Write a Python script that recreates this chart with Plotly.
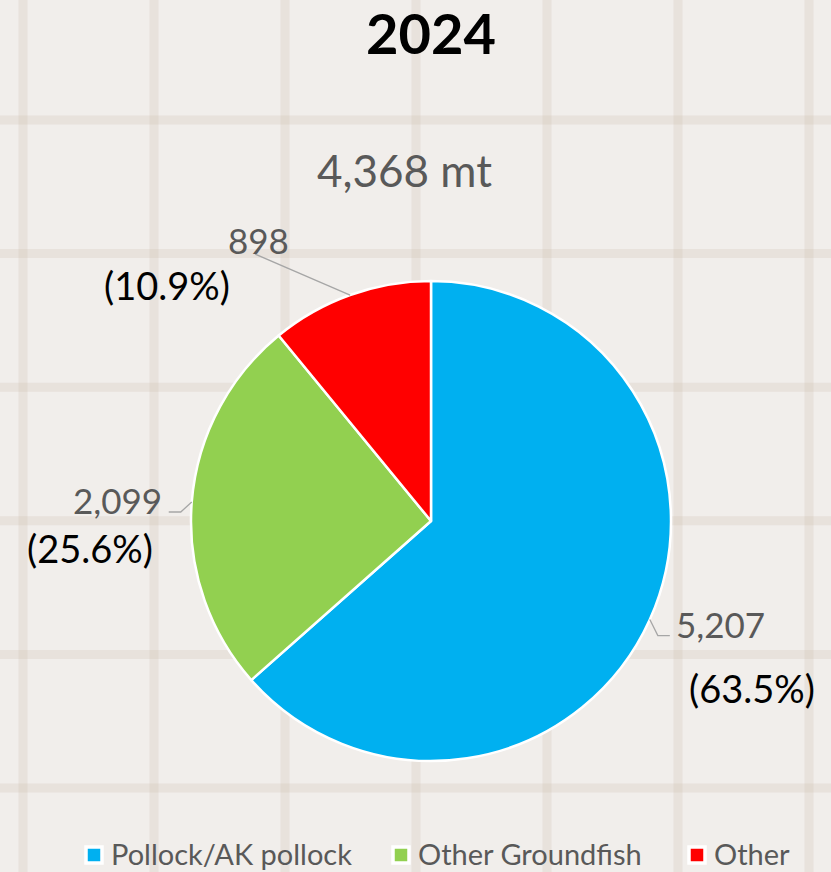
import math
import plotly.graph_objects as go

# Catch composition, 2024
categories = ["Pollock/AK pollock", "Other Groundfish", "Other"]
values = [5207, 2099, 898]
colors = ["#00B0F0", "#92D050", "#FF0000"]
title_text = "2024"
subtitle_text = "4,368 mt"

W, H = 831, 872
CX, CY, R = 431, 521, 240          # pie centre and radius in pixels

# Label placement per slice: elbow/end offsets of leader lines and text centres
leader_offsets = [
    [(8, 16), (20, 16)],            # Pollock: down-right, then right
    [(-11, 10), (-23, 10)],         # Other Groundfish: down-left, then left
    [(-95, -41)],                   # Other: straight up-left
]
value_pos = [(720, 624), (117, 500), (258, 240)]
pct_pos = [(752, 688), (90, 548), (167, 285)]

# Legend row: key-square centres along the bottom
legend_y = 855
legend_key_x = [94, 401, 697]


def px(x):
    return x / W


def py(y):
    return 1 - y / H


fig = go.Figure()

fig.add_trace(go.Pie(
    labels=categories,
    values=values,
    marker=dict(colors=colors, line=dict(color="white", width=2.5)),
    sort=False,
    direction="clockwise",
    rotation=0,
    textinfo="none",
    hoverinfo="label+value+percent",
    domain=dict(x=[px(CX - R), px(CX + R)], y=[py(CY + R), py(CY - R)]),
    showlegend=False,
))

shapes = []
# Tiled background grid
grid_color = "rgba(200,185,170,0.22)"
for k in range(7):
    x = 23 + 131 * k
    shapes.append(dict(type="line", xref="paper", yref="paper",
                       x0=px(x), x1=px(x), y0=0, y1=1, layer="below",
                       line=dict(color=grid_color, width=9)))
for k in range(6):
    y = 120 + 133.6 * k
    shapes.append(dict(type="line", xref="paper", yref="paper",
                       x0=0, x1=1, y0=py(y), y1=py(y), layer="below",
                       line=dict(color=grid_color, width=9)))

annotations = []
total = sum(values)
cum = 0
for i, v in enumerate(values):
    frac_mid = (cum + v / 2) / total
    cum += v
    ang = 2 * math.pi * frac_mid
    ex = CX + R * math.sin(ang)
    ey = CY - R * math.cos(ang)
    pts = [(ex, ey)] + [(ex + dx, ey + dy) for dx, dy in leader_offsets[i]]
    path = "M " + " L ".join(f"{px(a):.5f},{py(b):.5f}" for a, b in pts)
    shapes.append(dict(type="path", xref="paper", yref="paper", path=path,
                       line=dict(color="#A6A6A6", width=1.3)))
    vx, vy = value_pos[i]
    annotations.append(dict(x=px(vx), y=py(vy), xref="paper", yref="paper",
                            text=f"{v:,}", showarrow=False,
                            xanchor="center", yanchor="middle",
                            font=dict(family="Lato", size=35, color="#595959")))
    qx, qy = pct_pos[i]
    annotations.append(dict(x=px(qx), y=py(qy), xref="paper", yref="paper",
                            text=f"({v / total * 100:.1f}%)", showarrow=False,
                            xanchor="center", yanchor="middle",
                            font=dict(family="Lato", size=38, color="#000000")))

# Legend: white-edged colour keys followed by category names
for name, col, kx in zip(categories, colors, legend_key_x):
    shapes.append(dict(type="rect", xref="paper", yref="paper",
                       x0=px(kx - 8), x1=px(kx + 8),
                       y0=py(legend_y + 8), y1=py(legend_y - 8),
                       fillcolor=col, line=dict(color="white", width=3.5)))
    annotations.append(dict(x=px(kx + 16), y=0, xref="paper", yref="paper",
                            text=name, showarrow=False, borderpad=0,
                            xanchor="left", yanchor="bottom",
                            font=dict(family="Lato", size=29, color="#595959")))

annotations.append(dict(x=px(CX), y=py(33), xref="paper", yref="paper",
                        text=f"<b>{title_text}</b>", showarrow=False,
                        xanchor="center", yanchor="middle",
                        font=dict(family="Lato", size=56, color="#000000")))
annotations.append(dict(x=px(404), y=py(170), xref="paper", yref="paper",
                        text=subtitle_text, showarrow=False,
                        xanchor="center", yanchor="middle",
                        font=dict(family="Lato", size=44, color="#595959")))

fig.update_layout(
    width=W, height=H,
    margin=dict(l=0, r=0, t=0, b=0, autoexpand=False),
    paper_bgcolor="#F1EEEB",
    plot_bgcolor="#F1EEEB",
    shapes=shapes,
    annotations=annotations,
    showlegend=False,
)

fig.write_html("out.html")
